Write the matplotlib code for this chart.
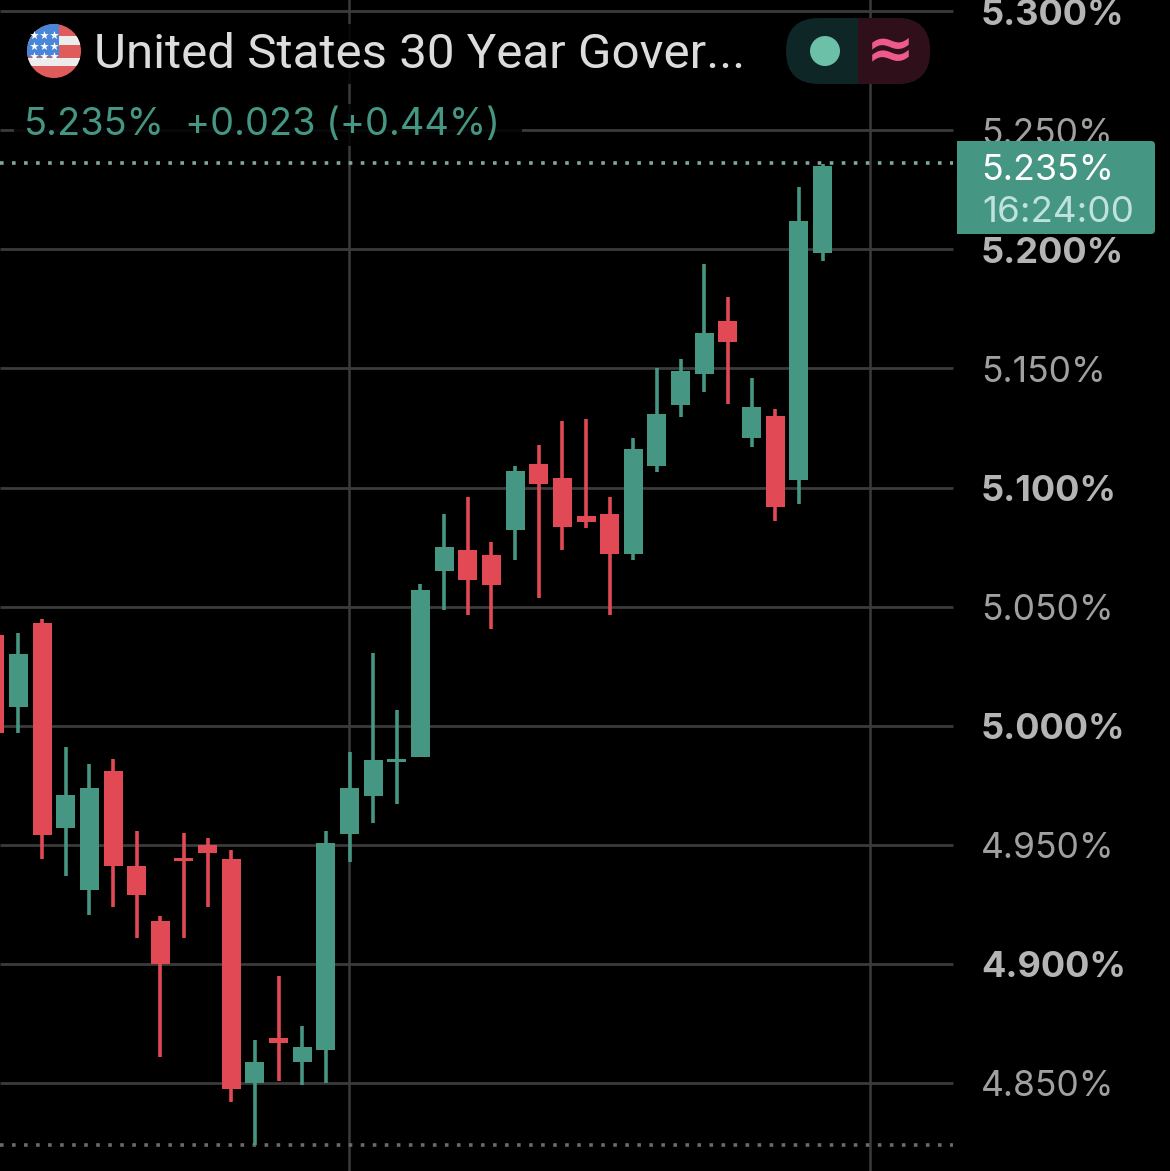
import matplotlib
matplotlib.use("Agg")
import matplotlib.pyplot as plt
from matplotlib.patches import Circle, FancyBboxPatch, Rectangle

# daily candles, oldest first
opens = [5.038, 5.008, 5.043, 4.957, 4.931, 4.981, 4.941, 4.918, 4.9446, 4.950, 4.944, 4.850, 4.869, 4.859, 4.864, 4.9545,
         4.9705, 4.9848, 4.987, 5.065, 5.074, 5.0715, 5.082, 5.110, 5.104, 5.088, 5.089, 5.072, 5.109, 5.1346, 5.1477,
         5.170, 5.121, 5.130, 5.103, 5.1985]
highs = [5.038, 5.039, 5.045, 4.991, 4.984, 4.986, 4.956, 4.920, 4.955, 4.953, 4.948, 4.868, 4.895, 4.874, 4.956, 4.989,
         5.0305, 5.0066, 5.0595, 5.089, 5.096, 5.077, 5.109, 5.118, 5.128, 5.129, 5.096, 5.121, 5.150, 5.154, 5.194,
         5.180, 5.146, 5.133, 5.226, 5.236]
lows = [4.997, 4.997, 4.944, 4.937, 4.9205, 4.924, 4.911, 4.861, 4.911, 4.924, 4.842, 4.824, 4.851, 4.849, 4.850, 4.943,
        4.959, 4.967, 4.987, 5.0486, 5.0465, 5.0406, 5.0696, 5.0535, 5.074, 5.083, 5.0465, 5.0696, 5.1065, 5.1296, 5.140,
        5.135, 5.117, 5.086, 5.093, 5.195]
closes = [4.997, 5.030, 4.954, 4.971, 4.974, 4.941, 4.929, 4.900, 4.9432, 4.9468, 4.8477, 4.859, 4.867, 4.865, 4.951, 4.974,
          4.9856, 4.986, 5.057, 5.075, 5.061, 5.059, 5.107, 5.1016, 5.0836, 5.0857, 5.072, 5.116, 5.131, 5.149, 5.165,
          5.161, 5.134, 5.092, 5.212, 5.235]

grid_levels = [5.30, 5.25, 5.20, 5.15, 5.10, 5.05, 5.00, 4.95, 4.90, 4.85]
grid_labels = ["5.300%", "5.250%", "5.200%", "5.150%", "5.100%", "5.050%", "5.000%", "4.950%", "4.900%", "4.850%"]
bold_labels = ["5.300%", "5.200%", "5.100%", "5.000%", "4.900%"]
vlines_at = [12.96, 35]
range_high = 5.2362
range_low = 4.824

GREEN = "#459683"
RED = "#E14A54"
GRID = "#3b3b3b"
FONT = "Inter"

plt.rcParams["font.family"] = [FONT, "DejaVu Sans"]

fig = plt.figure(figsize=(11.7, 11.71), dpi=100, facecolor="black")
ax = fig.add_axes([0, 0, 1, 1], facecolor="black")
ax.set_xlim(-1.778, 47.69)
ax.set_ylim(4.8131, 5.3047)
ax.axis("off")
ytrans = ax.get_yaxis_transform()
right_end = 953 / 1170

# grid
ax.hlines(grid_levels, 0, right_end, transform=ytrans, color=GRID, lw=2.0, zorder=1)
for v in vlines_at:
    ax.axvline(v, color=GRID, lw=1.8, zorder=1)

# dotted price lines
ax.hlines(range_high, 0, right_end, transform=ytrans, color="#7fa89d", lw=2.6, linestyles=[(0, (1, 2.33))], zorder=2)
ax.hlines(range_low, 0, right_end, transform=ytrans, color="#6a6a6a", lw=2.6, linestyles=[(0, (1, 2.33))], zorder=2)

# candles
xs = list(range(-2, len(opens) - 2))
for x, o, h, l, c in zip(xs, opens, highs, lows, closes):
    col = GREEN if c >= o else RED
    ax.vlines(x, l, h, color=col, lw=2.6, zorder=3)
    ax.bar(x, abs(c - o), bottom=min(o, c), width=0.803, color=col, linewidth=0, zorder=3)

# price scale
for lev, lab in zip(grid_levels, grid_labels):
    bold = lab in bold_labels
    ax.text(981 / 1170, lev - 0.0016, lab, transform=ytrans, color="#b4b4b4" if bold else "#a0a0a0",
            fontsize=26 if bold else 25.5, fontweight="bold" if bold else "normal", va="center", ha="left", zorder=4)

# overlay in pixels for the app header and price tag
ui = fig.add_axes([0, 0, 1, 1], facecolor="none")
ui.set_xlim(0, 1170)
ui.set_ylim(1171, 0)
ui.axis("off")

# header backdrop dims the grid behind the text
ui.add_patch(Rectangle((14, 24), 740, 60, color="black", alpha=0.85, lw=0, zorder=1))
ui.add_patch(Rectangle((14, 104), 508, 42, color="black", alpha=0.85, lw=0, zorder=1))

# flag
disc = Circle((54, 51), 27, color="#e05b5b", lw=0, zorder=2)
ui.add_patch(disc)
for y0, y1 in [(36, 45), (57.5, 66)]:
    s = Rectangle((20, y0), 70, y1 - y0, color="#ececec", lw=0, zorder=3)
    ui.add_patch(s)
    s.set_clip_path(disc)
canton = Rectangle((20, 20), 39, 37, color="#4a86d8", lw=0, zorder=4)
ui.add_patch(canton)
canton.set_clip_path(disc)
star_x = [34, 44, 54, 34, 44, 54, 34, 44, 54]
star_y = [35, 35, 35, 46, 46, 46, 56, 56, 56]
ui.scatter(star_x, star_y, marker="*", s=42, color="white", linewidths=0, zorder=5)

ui.text(94, 55, "United States 30 Year Gover...", color="#dcdcdc", fontsize=35.5, family=["Roboto", "DejaVu Sans"],
        va="center", ha="left", zorder=6)
ui.text(24, 125, "5.235%", color=GREEN, fontsize=27.3, va="center", ha="left", zorder=6)
ui.text(185, 125, "+0.023 (+0.44%)", color=GREEN, fontsize=27.3, va="center", ha="left", zorder=6)

# status pill
pill = FancyBboxPatch((786, 18), 144, 66, boxstyle="round,pad=0,rounding_size=33", color="#0e2625", lw=0, zorder=2)
ui.add_patch(pill)
half = Rectangle((858, 18), 72, 66, color="#2f0f1a", lw=0, zorder=3)
ui.add_patch(half)
half.set_clip_path(pill)
ui.add_patch(Circle((825, 51), 15, color="#6cc0a8", lw=0, zorder=4))
ui.text(890, 51, "≈", color="#ee5a8c", fontsize=42, fontweight="bold", family="DejaVu Sans",
        va="center", ha="center", zorder=5)

# last price tag
ui.add_patch(FancyBboxPatch((957, 141), 198, 93, boxstyle="round,pad=0,rounding_size=4", color=GREEN, lw=0, zorder=7))
ui.add_patch(Rectangle((957, 141), 10, 93, color=GREEN, lw=0, zorder=7))
ui.text(981, 171, "5.235%", color="white", fontsize=25.8, va="center", ha="left", zorder=8)
ui.text(982, 212, "16:24:00", color="#bfe3da", fontsize=26.5, va="center", ha="left", zorder=8)

fig.savefig("out.png", dpi=100, facecolor="black")
